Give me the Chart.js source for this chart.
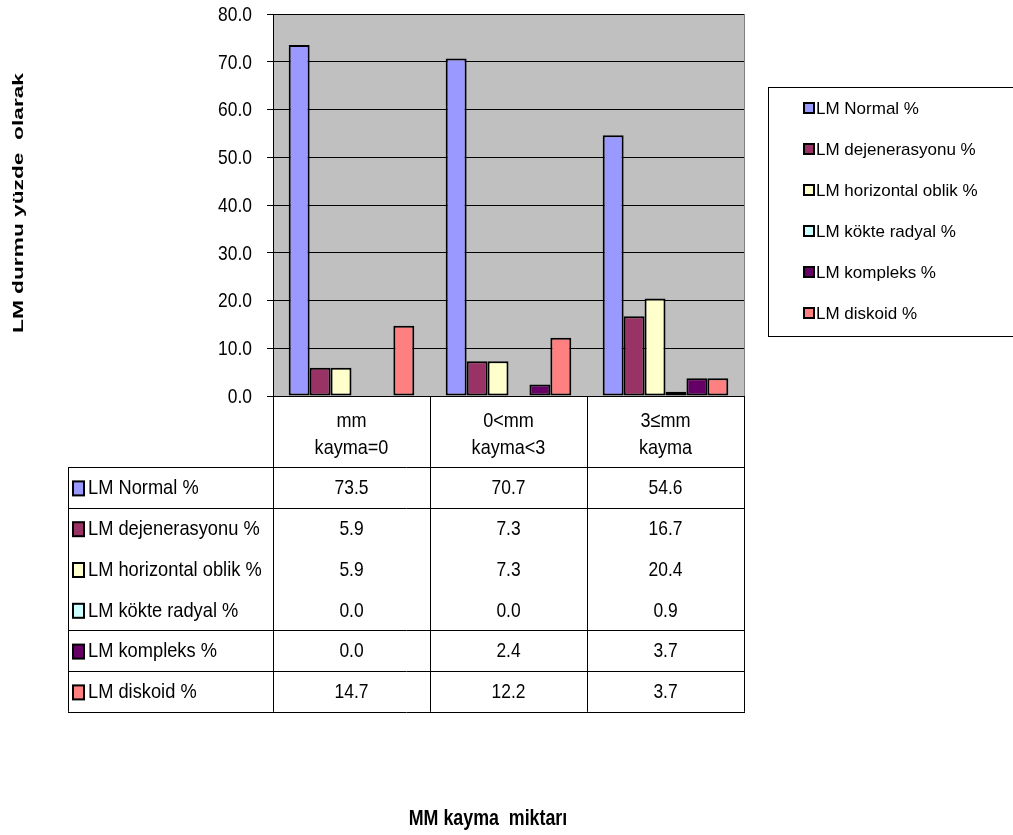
<!DOCTYPE html>
<html>
<head>
<meta charset="utf-8">
<script src="https://cdn.jsdelivr.net/npm/chart.js@4"></script>
<style>
    html, body { margin: 0; padding: 0; background: #fff; }
    #wrap { position: relative; width: 1013px; height: 835px; }
</style>
</head>
<body>
<div id="wrap"><canvas id="lm-chart"></canvas></div>
<script>
// categories (two header lines each)
var categories = [['mm', 'kayma=0'], ['0<mm', 'kayma<3'], ['3\u2264mm', 'kayma']];

var seriesNames = [
    'LM Normal %',
    'LM dejenerasyonu %',
    'LM horizontal oblik %',
    'LM kökte radyal %',
    'LM kompleks %',
    'LM diskoid %',
];

var lmNormal = [73.5, 70.7, 54.6];
var lmDejenerasyonu = [5.9, 7.3, 16.7];
var lmHorizontal = [5.9, 7.3, 20.4];
var lmKokte = [0.0, 0.0, 0.9];
var lmKompleks = [0.0, 2.4, 3.7];
var lmDiskoid = [14.7, 12.2, 3.7];

var yTicks = [0, 10, 20, 30, 40, 50, 60, 70, 80];

var seriesColors = ['#9999FF', '#993366', '#FFFFCC', '#CCFFFF', '#660066', '#FF8080'];

var fontFamily = "'Liberation Sans', Arial, sans-serif";

var allSeries = [lmNormal, lmDejenerasyonu, lmHorizontal, lmKokte, lmKompleks, lmDiskoid];

// the original text is squeezed sideways, so draw it with a horizontal scale
function squeezedText(ctx, text, x, y, sx, align) {
    ctx.save();
    ctx.translate(x, y);
    ctx.scale(sx, 1);
    ctx.textAlign = align;
    ctx.fillText(text, 0, 0);
    ctx.restore();
}

// grey plot background + right border
var plotBackground = {
    id: 'plotBackground',
    beforeDraw: function (chart) {
        var ctx = chart.ctx;
        var a = chart.chartArea;
        ctx.save();
        ctx.fillStyle = '#C0C0C0';
        ctx.fillRect(a.left, a.top, a.right - a.left, a.bottom - a.top);
        ctx.restore();
    },
    afterDraw: function (chart) {
        var ctx = chart.ctx;
        var a = chart.chartArea;
        var yScale = chart.scales.y;
        ctx.save();
        ctx.strokeStyle = '#808080';
        ctx.lineWidth = 1;
        ctx.beginPath();
        ctx.moveTo(a.right + 0.5, a.top);
        ctx.lineTo(a.right + 0.5, a.bottom);
        ctx.stroke();

        // y tick labels
        ctx.fillStyle = '#000';
        ctx.font = '21px ' + fontFamily;
        ctx.textBaseline = 'middle';
        yScale.ticks.forEach(function (t) {
            var ty = yScale.getPixelForValue(t.value) + 1;
            squeezedText(ctx, t.value.toFixed(1), 252, ty, 0.83, 'right');
        });
        ctx.restore();
    },
};

// data table under the plot
var dataTable = {
    id: 'dataTable',
    afterDraw: function (chart) {
        var ctx = chart.ctx;
        var a = chart.chartArea;
        var xScale = chart.scales.x;
        var catW = (a.right - a.left) / categories.length;
        var tableLeft = 68;
        var headTop = a.bottom;
        var rowTop = 467;
        var rowH = 40.8;
        var tableBottom = rowTop + rowH * seriesNames.length;

        ctx.save();
        ctx.strokeStyle = '#000';
        ctx.lineWidth = 1;

        // vertical lines
        ctx.beginPath();
        for (var i = 0; i <= categories.length; i++) {
            var lx = Math.round(a.left + i * catW) + 0.5;
            ctx.moveTo(lx, headTop);
            ctx.lineTo(lx, tableBottom);
        }
        ctx.moveTo(tableLeft + 0.5, rowTop);
        ctx.lineTo(tableLeft + 0.5, tableBottom);

        // horizontal lines (the original skips two of them)
        var drawn = [0, 1, 4, 5, 6];
        drawn.forEach(function (r) {
            var ly = Math.round(rowTop + r * rowH) + 0.5;
            ctx.moveTo(tableLeft, ly);
            ctx.lineTo(a.right + 1, ly);
        });
        ctx.stroke();

        // header
        ctx.fillStyle = '#000';
        ctx.font = '21px ' + fontFamily;
        ctx.textBaseline = 'alphabetic';
        categories.forEach(function (lines, c) {
            var cx = xScale.getPixelForValue(c);
            squeezedText(ctx, lines[0], cx, 427, 0.86, 'center');
            squeezedText(ctx, lines[1], cx, 454, 0.86, 'center');
        });

        // rows
        ctx.textBaseline = 'middle';
        seriesNames.forEach(function (name, r) {
            var cy = rowTop + r * rowH + rowH / 2 + 1;
            ctx.fillStyle = seriesColors[r];
            ctx.fillRect(73, cy - 7, 11, 14);
            ctx.strokeStyle = '#000';
            ctx.lineWidth = 2;
            ctx.strokeRect(73, cy - 7, 11, 14);
            ctx.fillStyle = '#000';
            squeezedText(ctx, name, 88, cy, 0.87, 'left');
            allSeries[r].forEach(function (v, c) {
                squeezedText(ctx, v.toFixed(1), xScale.getPixelForValue(c), cy, 0.83, 'center');
            });
        });
        ctx.restore();
    },
};

// boxed legend on the right and the axis titles
var sideParts = {
    id: 'sideParts',
    afterDraw: function (chart) {
        var ctx = chart.ctx;
        ctx.save();
        ctx.strokeStyle = '#000';
        ctx.lineWidth = 1;
        ctx.strokeRect(768.5, 87.5, 260, 249);

        ctx.font = '17px ' + fontFamily;
        ctx.textBaseline = 'middle';
        seriesNames.forEach(function (name, i) {
            var cy = 108 + i * 41;
            ctx.fillStyle = seriesColors[i];
            ctx.fillRect(804, cy - 5, 10, 10);
            ctx.strokeStyle = '#000';
            ctx.lineWidth = 2;
            ctx.strokeRect(804, cy - 5, 10, 10);
            ctx.fillStyle = '#000';
            squeezedText(ctx, name, 816, cy + 1, 1.0, 'left');
        });

        // x title
        ctx.font = 'bold 22px ' + fontFamily;
        ctx.textBaseline = 'alphabetic';
        squeezedText(ctx, 'MM kayma  miktarı', 488, 825, 0.81, 'center');

        // y title (stretched along its length like the original)
        ctx.translate(19, 203);
        ctx.rotate(-Math.PI / 2);
        ctx.font = 'bold 14px ' + fontFamily;
        var txt = 'LM durmu yüzde  olarak';
        var w = ctx.measureText(txt).width;
        ctx.scale(260 / w, 1);
        ctx.textAlign = 'center';
        ctx.textBaseline = 'middle';
        ctx.fillText(txt, 0, 0);
        ctx.restore();
    },
};

var lmChart = new Chart(document.getElementById('lm-chart'), {
    type: 'bar',
    data: {
        labels: categories.map(function (c) { return c.join(' '); }),
        datasets: seriesNames.map(function (name, i) {
            return {
                label: name,
                data: allSeries[i],
                backgroundColor: seriesColors[i],
                borderColor: '#000',
                borderWidth: 2,
                borderSkipped: false,
                categoryPercentage: 0.8,
                barPercentage: 1.0,
            };
        }),
    },
    options: {
        responsive: true,
        maintainAspectRatio: false,
        animation: false,
        layout: {
            padding: { left: 0, top: 14, right: 269, bottom: 439 },
        },
        scales: {
            x: {
                display: false,
            },
            y: {
                min: 0,
                max: 80,
                afterFit: function (scale) {
                    scale.width = 273;
                },
                afterBuildTicks: function (scale) {
                    scale.ticks = yTicks.map(function (v) { return { value: v }; });
                },
                ticks: {
                    display: false,
                },
                grid: {
                    color: '#000',
                    lineWidth: 1,
                    tickLength: 6,
                    drawTicks: true,
                },
                border: {
                    display: true,
                    color: '#000',
                    width: 1,
                },
            },
        },
        plugins: {
            legend: { display: false },
            tooltip: { enabled: true },
        },
    },
    plugins: [plotBackground, dataTable, sideParts],
});
</script>
</body>
</html>
